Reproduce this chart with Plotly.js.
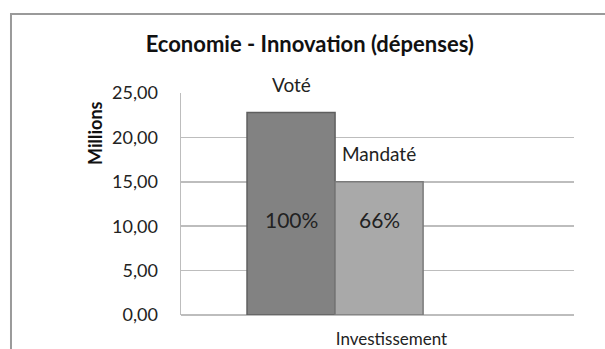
<!DOCTYPE html>
<html>
<head>
<meta charset="utf-8">
<script src="https://cdn.plot.ly/plotly-3.0.1.min.js"></script>
<style>html,body{margin:0;padding:0;background:#fff;}#chart{width:605px;height:349px;}</style>
</head>
<body>
<div id="chart"></div>
<script>
const categories = ["Investissement"];
const seriesNames = ["Voté", "Mandaté"];
const voteValues = [22.8];
const mandateValues = [15.0];
const yTickValues = [0, 5, 10, 15, 20, 25];

const FONT = "Lato, 'Open Sans', sans-serif";
const barWidth = 0.224;
const offsets = [-0.332, -0.108];
const colors = ["#828282", "#a9a9a9"];
const edge = ["#5f5f5f", "#7a7a7a"];
const allValues = [voteValues, mandateValues];

const traces = allValues.map((vals, i) => ({
  type: "bar",
  name: seriesNames[i],
  x: categories,
  y: vals,
  width: barWidth,
  offset: offsets[i],
  marker: {color: colors[i], line: {color: edge[i], width: 1.5}},
  hoverinfo: "none"
}));

const annotations = [];
allValues.forEach((vals, i) => {
  vals.forEach((v, j) => {
    const cx = j + offsets[i] + barWidth / 2;
    annotations.push({
      x: cx, y: v, xref: "x", yref: "y", text: seriesNames[i], showarrow: false,
      xanchor: "center", yanchor: "bottom", yshift: 15, font: {family: FONT, size: 19, color: "#222"}
    });
    const pct = Math.round(v / voteValues[j] * 100) + "%";
    annotations.push({
      x: cx, y: 10.7, xref: "x", yref: "y", text: pct, showarrow: false,
      xanchor: "center", yanchor: "middle", font: {family: FONT, size: 21, color: "#222"}
    });
  });
});
annotations.push({
  x: -0.219, y: 0.82, xref: "paper", yref: "paper", text: "<b>Millions</b>",
  textangle: -90, showarrow: false, xanchor: "center", yanchor: "middle",
  font: {family: FONT, size: 18, color: "#111"}
});

const layout = {
  width: 605, height: 349,
  margin: {l: 181, r: 31, t: 93, b: 34, pad: 0},
  paper_bgcolor: "#fff", plot_bgcolor: "#fff",
  separators: ", ",
  showlegend: false,
  title: {text: "<b>Economie - Innovation (dépenses)</b>", x: 0.512, xanchor: "center",
          y: 0.873, yanchor: "middle", font: {family: FONT, size: 22, color: "#111"}},
  xaxis: {type: "category", range: [-0.5, 0.5], showgrid: false, zeroline: false,
          showline: false, ticks: "", ticklabelstandoff: 12, ticklabelshift: 14,
          tickfont: {family: FONT, size: 17, color: "#222"}, fixedrange: true},
  yaxis: {range: [0, 25], tickvals: yTickValues, tickformat: ".2f", showgrid: true,
          gridcolor: "#bdbdbd", gridwidth: 1.5, zeroline: true, zerolinecolor: "#bdbdbd",
          zerolinewidth: 1.5, showline: true, linecolor: "#bdbdbd", linewidth: 1.5,
          ticks: "", ticklabelstandoff: 18,
          tickfont: {family: FONT, size: 18, color: "#222"}, fixedrange: true},
  annotations: annotations,
  shapes: [{type: "rect", xref: "paper", yref: "paper", x0: -0.4326, y0: -0.3, x1: 1.2, y1: 1.356,
            line: {color: "#9a9a9a", width: 2}, layer: "below"}]
};

Plotly.newPlot("chart", traces, layout, {displayModeBar: false, staticPlot: true});
</script>
</body>
</html>
